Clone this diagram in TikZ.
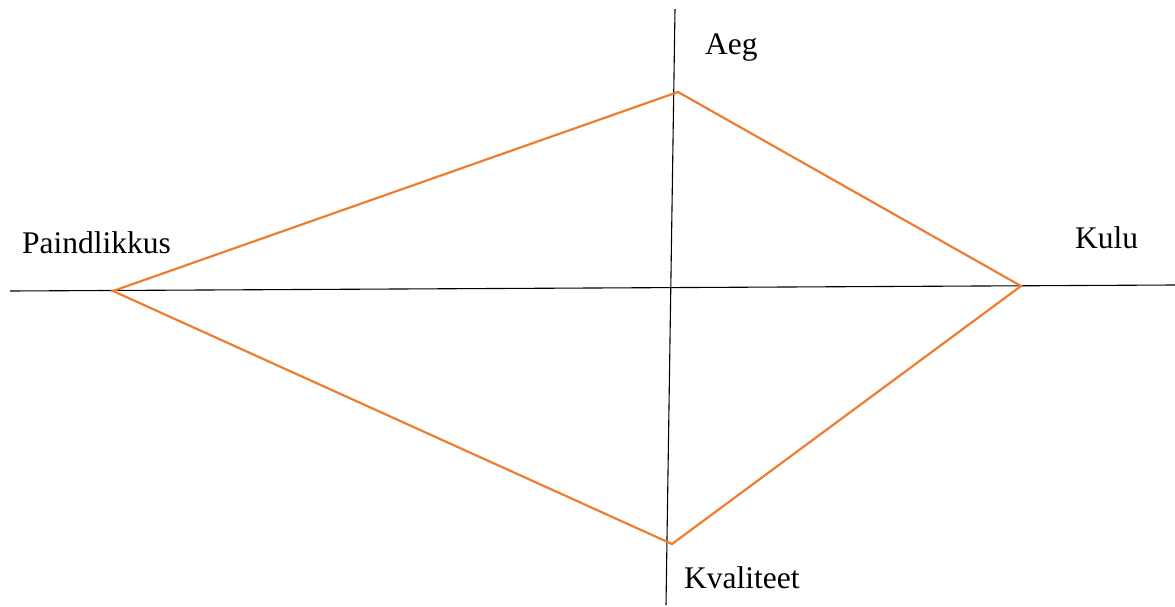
\documentclass[tikz,border=0pt]{standalone}
\usepackage{fontspec}
\setmainfont{Liberation Serif}
\definecolor{diaorange}{HTML}{ED7D31}
\begin{document}
\begin{tikzpicture}[x=1pt,y=-1pt,
  axis/.style={draw=black,line width=1.1pt},
  edge/.style={draw=diaorange,line width=2.2pt,line join=miter},
  lbl/.style={anchor=base west,inner sep=0pt,font=\fontsize{31.5}{36}\selectfont}]
\useasboundingbox (0,0) rectangle (1175,607);
\coordinate (vt) at (675,9);
\coordinate (vb) at (666,605);
\coordinate (hl) at (10,291);
\coordinate (hr) at (1175,285);
\draw[axis] (vt) -- (vb);
\draw[axis] (hl) -- (hr);
\coordinate (top) at (678,92);
\coordinate (left) at (113,291);
\coordinate (right) at (1021,286);
\coordinate (bot) at (672,544);
\draw[edge] (top) -- (right) -- (bot) -- (left) -- cycle;
\node[lbl] (aeg) at (705,55) {Aeg};
\node[lbl] (kulu) at (1075,248) {Kulu};
\node[lbl] (paind) at (22,253) {Paindlikkus};
\node[lbl] (kval) at (684,588) {Kvaliteet};
\end{tikzpicture}
\end{document}
